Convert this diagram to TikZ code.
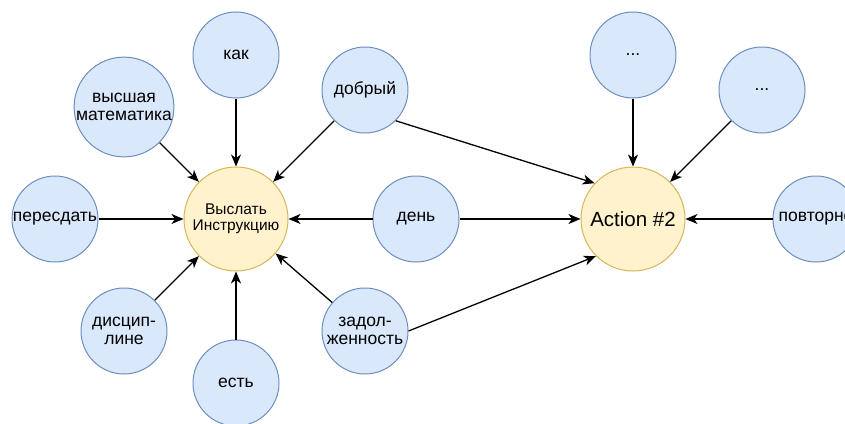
\documentclass[tikz,border=0pt]{standalone}
\usepackage{fontspec}
\setmainfont{Liberation Sans}
\usetikzlibrary{arrows.meta}
\definecolor{bfill}{HTML}{DAE8FC}
\definecolor{bdraw}{HTML}{6C8EBF}
\definecolor{yfill}{HTML}{FFF2CC}
\definecolor{ydraw}{HTML}{D6B656}
\begin{document}
\begin{tikzpicture}[x=1pt,y=-1pt,
  word/.style={circle, draw=bdraw, fill=bfill, line width=1pt, minimum size=86pt, inner sep=0pt, align=center, font=\fontsize{17.5}{18.5}\selectfont},
  act/.style={circle, draw=ydraw, fill=yfill, line width=1pt, minimum size=104pt, inner sep=0pt, align=center},
  link/.style={-{Stealth[length=12pt,width=10pt,inset=3.5pt]}, line width=1.3pt}]
\useasboundingbox (0,0) rectangle (845,423);
\node[act, font=\fontsize{15.5}{16.5}\selectfont] (main) at (236,219) {Выслать\\Инструкцию};
\node[act, font=\fontsize{20.5}{24}\selectfont] (act2) at (633,219) {Action \#2};
\node[word] (kak) at (236,55) {как};
\node[word] (vm) at (124,107) {высшая\\математика};
\node[word] (dob) at (365,90) {добрый};
\node[word] (per) at (55,219) {пересдать};
\node[word] (den) at (416,219) {день};
\node[word] (dis) at (124,331) {дисцип-\\лине};
\node[word] (est) at (236,383) {есть};
\node[word] (zad) at (365,331) {задол-\\женность};
\node[word] (d1) at (633,55) {...};
\node[word] (d2) at (762,90) {...};
\node[word] (pov) at (816,219) {повторно};
\draw[link] (kak) -- (main);
\draw[link] (vm) -- (main);
\draw[link] (dob) -- (main);
\draw[link] (per) -- (main);
\draw[link] (den) -- (main);
\draw[link] (dis) -- (main);
\draw[link] (est) -- (main);
\draw[link] (zad) -- (main);
\draw[link] (dob.-45) -- (act2.137);
\draw[link] (den) -- (act2);
\draw[link] (zad.east) -- (act2.225);
\draw[link] (d1) -- (act2);
\draw[link] (d2) -- (act2);
\draw[link] (pov) -- (act2);
\end{tikzpicture}
\end{document}
